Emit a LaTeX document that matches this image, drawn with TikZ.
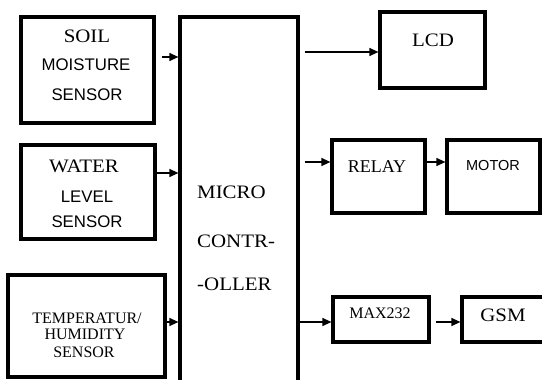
\documentclass[tikz,border=0pt]{standalone}
\usepackage{fontspec}
\setmainfont{Liberation Serif}
\newfontfamily\serW[FakeStretch=1.1]{Liberation Serif}
\newfontfamily\sansf{Liberation Sans}
\usetikzlibrary{arrows.meta}
\tikzset{
  box/.style={draw, line width=3.2pt, inner sep=0pt, rectangle},
  arr/.style={line width=1.3pt, -{Triangle[length=9pt,width=8pt]}},
  bigser/.style={inner sep=0pt, font=\serW\fontsize{19}{22}\selectfont},
  midser/.style={inner sep=0pt, font=\fontsize{18}{21}\selectfont},
  smallser/.style={inner sep=0pt, font=\fontsize{16}{19}\selectfont},
  sanslab/.style={inner sep=0pt, font=\sansf\fontsize{16.8}{19}\selectfont},
  sanssm/.style={inner sep=0pt, font=\sansf\fontsize{14.5}{17}\selectfont},
}
\begin{document}
\begin{tikzpicture}[x=1pt,y=1pt]
\useasboundingbox (0,0) rectangle (542,-380);
\begin{scope}
\clip (0,0) rectangle (542,-380);
% boxes
\node[box, minimum width=133pt, minimum height=106pt] (soil) at (87.5,-70) {};
\node[box, minimum width=134pt, minimum height=94pt] (water) at (88,-192) {};
\node[box, minimum width=157pt, minimum height=102pt] (temp) at (86.5,-326) {};
\node[box, minimum width=118pt, minimum height=403pt] (micro) at (239,-218.5) {};
\node[box, minimum width=105pt, minimum height=76pt] (lcd) at (432.5,-50) {};
\node[box, minimum width=93pt, minimum height=73pt] (relay) at (378.5,-176.5) {};
\node[box, minimum width=93pt, minimum height=73pt] (motor) at (493.5,-176.5) {};
\node[box, minimum width=96pt, minimum height=45pt] (max) at (381,-319.5) {};
\node[box, minimum width=88pt, minimum height=45pt] (gsm) at (506,-319.5) {};
% texts
\node[bigser] (soilA) at (87,-36) {SOIL};
\node[sanslab] (soilB) at (86,-65) {MOISTURE};
\node[sanslab] (soilC) at (87,-95) {SENSOR};
\node[bigser] (waterA) at (84,-166) {WATER};
\node[sanslab] (waterB) at (87,-197) {LEVEL};
\node[sanslab] (waterC) at (87,-222) {SENSOR};
\node[smallser] (tempA) at (87,-318) {TEMPERATUR/};
\node[smallser] (tempB) at (85,-334) {HUMIDITY};
\node[smallser] (tempC) at (84,-352) {SENSOR};
\node[bigser, anchor=west] (microA) at (197,-192) {MICRO};
\node[bigser, anchor=west] (microB) at (197,-241) {CONTR-};
\node[bigser, anchor=west] (microC) at (197,-284) {-OLLER};
\node[bigser] (lcdT) at (433,-40) {LCD};
\node[midser] (relayT) at (377,-167) {RELAY};
\node[sanssm] (motorT) at (493,-166) {MOTOR};
\node[smallser] (maxT) at (380,-313) {MAX232};
\node[bigser] (gsmT) at (503,-315) {GSM};
% connectors
\coordinate (s1) at ([xshift=6pt,yshift=13pt]soil.east);
\draw[arr] (s1) -- (s1 -| micro.west);
\coordinate (w1) at ([yshift=19pt]water.east);
\draw[arr] (w1) -- (w1 -| micro.west);
\coordinate (t1) at ([yshift=4pt]temp.east);
\draw[arr] (t1) -- (t1 -| micro.west);
\coordinate (m1) at ([xshift=5pt]micro.east);
\coordinate (l1) at ([yshift=-2pt]lcd.west);
\draw[arr] (m1 |- l1) -- (l1);
\coordinate (r1) at ([yshift=14.5pt]relay.west);
\draw[arr] (m1 |- r1) -- (r1);
\coordinate (r2) at ([yshift=14.5pt]relay.east);
\draw[arr] (r2) -- (r2 -| motor.west);
\coordinate (x1) at ([yshift=-2.5pt]max.west);
\draw[arr] (x1 -| micro.east) -- (x1);
\coordinate (x2) at ([xshift=5pt,yshift=-2.5pt]max.east);
\draw[arr] (x2) -- (x2 -| gsm.west);
\end{scope}
\end{tikzpicture}
\end{document}
